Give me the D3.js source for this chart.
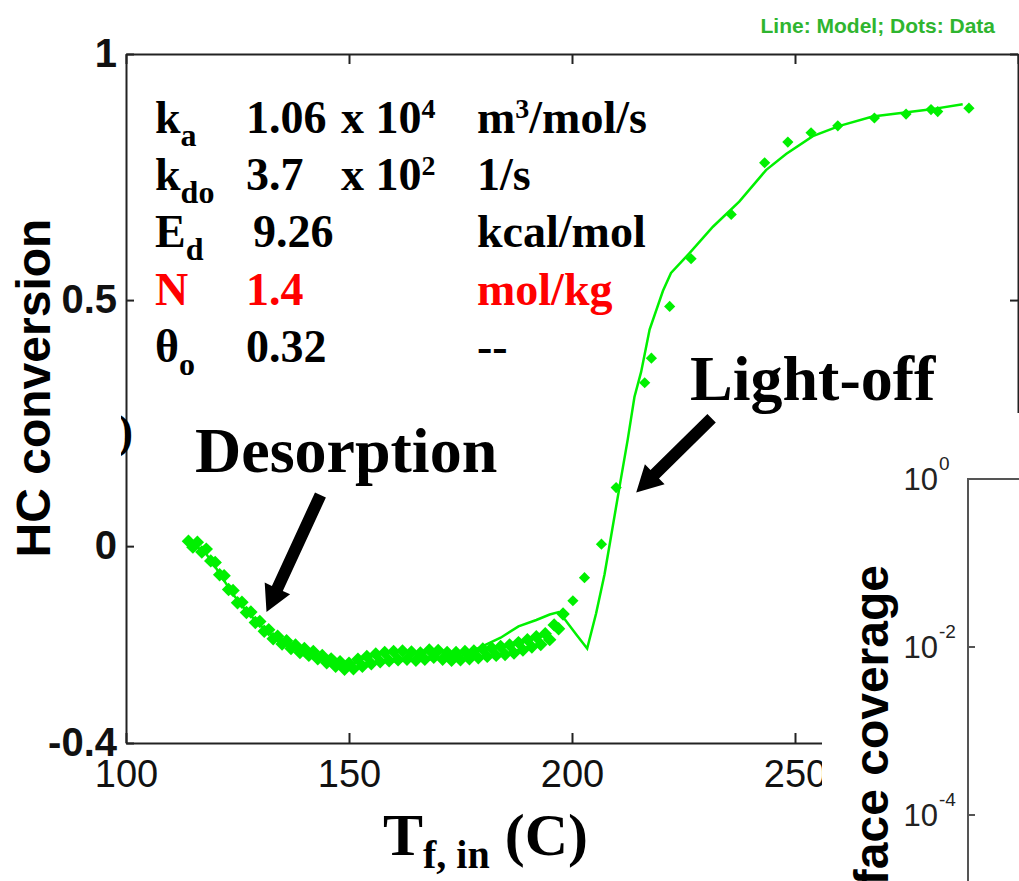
<!DOCTYPE html>
<html>
<head>
<meta charset="utf-8">
<script src="https://cdn.jsdelivr.net/npm/d3@7"></script>
<style>
body { margin: 0; background: #fff; }
</style>
</head>
<body>
<div id="chart"></div>
<script>
var width = 1019,
    height = 881;

// dense data band, two sweeps (T in C, HC conversion)
var sweepA_T = [114,116,118,120,122,124,126,128,130,132,134,136,138,140,142,144,146,148,150,152,154,156,158,160,162,164,166,168,170,172,174,176,178,180,182,184,186,188,190,192,194,196,198];
var sweepA_V = [0.010,0.008,-0.006,-0.033,-0.060,-0.090,-0.114,-0.134,-0.153,-0.170,-0.183,-0.192,-0.201,-0.208,-0.214,-0.222,-0.229,-0.235,-0.238,-0.230,-0.224,-0.219,-0.216,-0.214,-0.213,-0.215,-0.217,-0.211,-0.212,-0.216,-0.216,-0.214,-0.213,-0.209,-0.207,-0.204,-0.201,-0.196,-0.190,-0.184,-0.178,-0.160,-0.138];
var sweepB_T = [115,117,119,121,123,125,127,129,131,133,135,137,139,141,143,145,147,149,151,153,155,157,159,161,163,165,167,169,171,173,175,177,179,181,183,185,187,189,191,193,195,197];
var sweepB_V = [-0.002,-0.012,-0.030,-0.058,-0.088,-0.115,-0.135,-0.155,-0.173,-0.188,-0.199,-0.208,-0.216,-0.222,-0.229,-0.237,-0.244,-0.250,-0.249,-0.244,-0.239,-0.235,-0.233,-0.231,-0.230,-0.232,-0.230,-0.226,-0.230,-0.232,-0.231,-0.229,-0.227,-0.224,-0.222,-0.220,-0.217,-0.211,-0.205,-0.200,-0.190,-0.168];

// sparse data points above light-off
var dotsT = [200.2,202.8,206.6,209.9,216.3,217.8,221.9,226.7,235.7,243.2,248.4,253.6,259.6,267.8,274.9,280.5,282.0,289.0];
var dotsV = [-0.111,-0.064,0.004,0.119,0.332,0.382,0.487,0.584,0.674,0.779,0.821,0.840,0.854,0.870,0.878,0.887,0.883,0.890];

// model line
var modelT = [114,116,118,120,122,124,126,128,130,133,136,140,144,148,152,156,160,165,170,175,180,184,188,192,195,197,198.5,201,203.4,205.4,207.3,208.8,210.7,212.5,214,215.5,217.4,220.4,222.2,226.3,231.6,237.5,243.5,248,254,260,267.4,280.1,287.6];
var modelV = [0.004,-0.002,-0.016,-0.042,-0.070,-0.098,-0.121,-0.141,-0.160,-0.183,-0.198,-0.212,-0.224,-0.234,-0.238,-0.236,-0.234,-0.232,-0.229,-0.224,-0.203,-0.186,-0.163,-0.150,-0.139,-0.134,-0.150,-0.180,-0.208,-0.137,-0.057,0.022,0.123,0.217,0.303,0.354,0.440,0.519,0.555,0.595,0.649,0.700,0.764,0.797,0.833,0.854,0.873,0.887,0.898];

var xTicks = [100, 150, 200, 250, 300];
var xTickLabels = ["100", "150", "200", "250", ""];
var yTicks = [-0.4, 0, 0.5, 1];
var yTickLabels = ["-0.4", "0", "0.5", "1"];

// parameter table
var parNames = ["k", "k", "E", "N", "\u03b8"];
var parSubs = ["a", "do", "d", "", "o"];
var parValues = ["1.06", "3.7", "9.26", "1.4", "0.32"];
var parExps = ["4", "2", "", "", ""];
var parUnits = [["m", "3", "/mol/s"], ["1/s", "", ""], ["kcal/mol", "", ""], ["mol/kg", "", ""], ["--", "", ""]];
var parColors = ["#000", "#000", "#000", "#f00", "#000"];

// inset ticks
var insetTicks = [1, 1e-2, 1e-4];
var insetExps = ["0", "-2", "-4"];

var serif = "'Liberation Serif', 'Times New Roman', serif",
    sans = "'Liberation Sans', Arial, sans-serif",
    green = "#00f000";

var svg = d3.select("#chart")
    .append("svg")
    .attr("width", width)
    .attr("height", height);

var x = d3.scaleLinear().domain([100, 300]).range([126, 1018]);
var y = d3.scaleLinear().domain([-0.4, 1]).range([743, 54]);

// axes
var axisB = svg.append("g").attr("transform", "translate(0," + y(-0.4) + ")")
    .call(d3.axisBottom(x).tickValues(xTicks).tickSizeInner(-10).tickSizeOuter(0).tickPadding(17)
        .tickFormat(function(d, i) { return xTickLabels[i]; }));
var axisT = svg.append("g").attr("transform", "translate(0," + y(1) + ")")
    .call(d3.axisTop(x).tickValues(xTicks).tickSizeInner(-10).tickSizeOuter(0).tickFormat(""));
var axisL = svg.append("g").attr("transform", "translate(" + x(100) + ",0)")
    .call(d3.axisLeft(y).tickValues(yTicks).tickSizeInner(-8).tickSizeOuter(0).tickPadding(9)
        .tickFormat(function(d, i) { return yTickLabels[i]; }));
var axisR = svg.append("g").attr("transform", "translate(" + x(300) + ",0)")
    .call(d3.axisRight(y).tickValues(yTicks).tickSizeInner(-8).tickSizeOuter(0).tickFormat(""));

svg.selectAll(".domain").attr("stroke", "#222").attr("stroke-width", 2);
svg.selectAll(".tick line").attr("stroke", "#222").attr("stroke-width", 2);
axisB.selectAll("text").attr("font-family", sans).attr("font-size", 38).attr("fill", "#111");
axisL.selectAll("text").attr("font-family", sans).attr("font-size", 40).attr("font-weight", "bold").attr("fill", "#111");

// y label
svg.append("text")
    .attr("transform", "translate(50," + 388 + ") rotate(-90)")
    .attr("text-anchor", "middle")
    .attr("font-family", sans).attr("font-weight", "bold").attr("font-size", 48)
    .text("HC conversion");

// x label
var xl = svg.append("text")
    .attr("x", 383).attr("y", 855)
    .attr("font-family", serif).attr("font-weight", "bold").attr("font-size", 60);
xl.append("tspan").text("T");
xl.append("tspan").attr("font-size", 40).attr("dy", 13).text("f, in");
xl.append("tspan").attr("dy", -13).text(" (C)");

// stray bracket at the left edge
svg.append("clipPath").attr("id", "brk").append("rect")
    .attr("x", 121).attr("y", 400).attr("width", 20).attr("height", 60);
svg.append("text")
    .attr("clip-path", "url(#brk)")
    .attr("x", 133).attr("y", 447)
    .attr("text-anchor", "end")
    .attr("font-family", serif).attr("font-weight", "bold").attr("font-size", 46)
    .text(")");

// data
var diamond = d3.symbol().type(d3.symbolDiamond2).size(115);
var smallDiamond = d3.symbol().type(d3.symbolDiamond2).size(80);

function drawDots(ts, vs, sym) {
    svg.append("g").selectAll("path")
        .data(ts)
        .enter().append("path")
        .attr("d", sym)
        .attr("transform", function(d, i) { return "translate(" + x(d) + "," + y(vs[i]) + ")"; })
        .attr("fill", green);
}
drawDots(sweepA_T, sweepA_V, diamond);
drawDots(sweepB_T, sweepB_V, diamond);
drawDots(dotsT, dotsV, smallDiamond);

var line = d3.line()
    .x(function(d) { return x(d); })
    .y(function(d, i) { return y(modelV[i]); });

svg.append("path")
    .attr("d", line(modelT))
    .attr("fill", "none")
    .attr("stroke", green)
    .attr("stroke-width", 2.5);

// parameter table
var rowY = [133, 190, 247, 305, 362];
parNames.forEach(function(n, i) {
    var g = svg.append("g")
        .attr("font-family", serif).attr("font-weight", "bold")
        .attr("fill", parColors[i]);
    var t = g.append("text").attr("x", 155).attr("y", rowY[i]).attr("font-size", 46);
    t.append("tspan").text(n);
    if (parSubs[i]) t.append("tspan").attr("font-size", 32).attr("dy", 13).text(parSubs[i]);

    g.append("text").attr("x", i == 2 ? 253 : 246).attr("y", rowY[i]).attr("font-size", 46)
        .text(parValues[i]);

    if (parExps[i]) {
        var e = g.append("text").attr("x", 341).attr("y", rowY[i]).attr("font-size", 46);
        e.append("tspan").text("x 10");
        e.append("tspan").attr("font-size", 28).attr("dy", -15).text(parExps[i]);
    }

    var u = g.append("text").attr("x", 477).attr("y", rowY[i]).attr("font-size", 46);
    u.append("tspan").text(parUnits[i][0]);
    if (parUnits[i][1]) {
        u.append("tspan").attr("font-size", 28).attr("dy", -15).text(parUnits[i][1]);
        u.append("tspan").attr("dy", 15).text(parUnits[i][2]);
    }
});

// legend note
svg.append("text")
    .attr("x", 995).attr("y", 33)
    .attr("text-anchor", "end")
    .attr("font-family", sans).attr("font-weight", "bold").attr("font-size", 21)
    .attr("fill", "#2fb52f")
    .text("Line: Model; Dots: Data");

// inset panel covering the lower right corner
svg.append("rect")
    .attr("x", 822).attr("y", 413)
    .attr("width", width - 822).attr("height", height - 413)
    .attr("fill", "#fff");

var yLog = d3.scaleLog().domain([1e-5, 1]).range([899, 479]);

svg.append("path")
    .attr("d", "M" + width + "," + yLog(1) + "H968V" + height)
    .attr("fill", "none").attr("stroke", "#555").attr("stroke-width", 2);

svg.append("g").selectAll("line")
    .data(insetTicks)
    .enter().append("line")
    .attr("x1", 968).attr("x2", 975)
    .attr("y1", function(d) { return yLog(d); })
    .attr("y2", function(d) { return yLog(d); })
    .attr("stroke", "#555").attr("stroke-width", 2);

insetTicks.forEach(function(d, i) {
    svg.append("text")
        .attr("x", 938).attr("y", yLog(d) + 11)
        .attr("text-anchor", "end")
        .attr("font-family", sans).attr("font-size", 31).attr("fill", "#222")
        .text("10");
    svg.append("text")
        .attr("x", 939).attr("y", yLog(d) - 9)
        .attr("font-family", sans).attr("font-size", 19).attr("fill", "#222")
        .text(insetExps[i]);
});

svg.append("text")
    .attr("transform", "translate(888,565) rotate(-90)")
    .attr("text-anchor", "end")
    .attr("font-family", sans).attr("font-weight", "bold").attr("font-size", 48)
    .text("Surface coverage");

// annotations
var notes = [
    {text: "Desorption", x: 195, y: 472, tail: [143.6, 0.104], tip: [131.5, -0.134]},
    {text: "Light-off", x: 690, y: 400, tail: [231.3, 0.26], tip: [214.4, 0.109]}
];

function arrowPath(x0, y0, x1, y1) {
    var dx = x1 - x0, dy = y1 - y0, L = Math.sqrt(dx * dx + dy * dy);
    var ux = dx / L, uy = dy / L, px = -uy, py = ux;
    var sw = 6, hw = 14, hl = 26;
    var bx = x1 - ux * hl, by = y1 - uy * hl;
    var pts = [
        [x0 + px * sw, y0 + py * sw],
        [bx + px * sw, by + py * sw],
        [bx + px * hw, by + py * hw],
        [x1, y1],
        [bx - px * hw, by - py * hw],
        [bx - px * sw, by - py * sw],
        [x0 - px * sw, y0 - py * sw]
    ];
    return "M" + pts.map(function(p) { return p[0].toFixed(1) + "," + p[1].toFixed(1); }).join("L") + "Z";
}

notes.forEach(function(n) {
    svg.append("text")
        .attr("x", n.x).attr("y", n.y)
        .attr("font-family", serif).attr("font-weight", "bold").attr("font-size", 64)
        .text(n.text);
    svg.append("path")
        .attr("d", arrowPath(x(n.tail[0]), y(n.tail[1]), x(n.tip[0]), y(n.tip[1])))
        .attr("fill", "#000");
});
</script>
</body>
</html>
